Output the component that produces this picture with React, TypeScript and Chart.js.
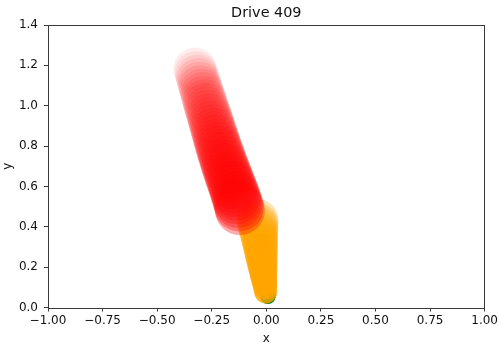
import React, { useEffect, useRef } from "react";
import { Chart, registerables } from "chart.js";

Chart.register(...registerables);

const TITLE = "Drive 409";
const X_TICKS = [-1, -0.75, -0.5, -0.25, 0, 0.25, 0.5, 0.75, 1];
const Y_TICKS = [0, 0.2, 0.4, 0.6, 0.8, 1.0, 1.2, 1.4];

// older trail (red), top to bottom
const redX = [
  -0.327, -0.322, -0.317, -0.312, -0.307, -0.302, -0.297, -0.292, -0.287, -0.282,
  -0.277, -0.272, -0.267, -0.261, -0.256, -0.251, -0.246, -0.241, -0.236, -0.231,
  -0.226, -0.221, -0.216, -0.21, -0.205, -0.199, -0.194, -0.188, -0.182, -0.176,
  -0.17, -0.164, -0.158, -0.152, -0.146, -0.14, -0.135, -0.13, -0.125, -0.121,
];
const redY = [
  1.182, 1.164, 1.146, 1.128, 1.11, 1.092, 1.075, 1.057, 1.039, 1.021,
  1.003, 0.985, 0.967, 0.949, 0.931, 0.913, 0.895, 0.877, 0.859, 0.841,
  0.823, 0.805, 0.787, 0.77, 0.752, 0.734, 0.716, 0.698, 0.68, 0.662,
  0.644, 0.626, 0.608, 0.59, 0.572, 0.554, 0.536, 0.518, 0.5, 0.483,
];
// recent trail (orange), top to bottom
const orangeX = [
  -0.041, -0.039, -0.037, -0.035, -0.033, -0.031, -0.029, -0.027, -0.025, -0.024,
  -0.022, -0.02, -0.018, -0.016, -0.014, -0.012, -0.01, -0.007, -0.005, -0.003,
];
const orangeY = [
  0.434, 0.415, 0.397, 0.378, 0.36, 0.341, 0.323, 0.304, 0.286, 0.267,
  0.249, 0.23, 0.212, 0.193, 0.175, 0.156, 0.138, 0.119, 0.098, 0.077,
];
// current position (green)
const greenX = [0.007];
const greenY = [0.057];

const zip = (xs: number[], ys: number[]) => xs.map((x, i) => ({ x, y: ys[i] }));
const fmt = (v: number, d: number) => {
  const s = Math.abs(v) < 1e-9 ? (0).toFixed(d) : v.toFixed(d);
  return s.replace("-", "\u2212");
};

const FONT = "'DejaVu Sans', sans-serif";
const SPINE = "#3a3a3a";

export default function App() {
  const ref = useRef<HTMLCanvasElement | null>(null);

  useEffect(() => {
    document.body.style.margin = "0";
    const canvas = ref.current;
    if (!canvas) return;

    const boxPlugin = {
      id: "boxAndTitle",
      afterDraw(chart: any) {
        const { ctx, chartArea } = chart;
        ctx.save();
        ctx.strokeStyle = SPINE;
        ctx.lineWidth = 1;
        ctx.strokeRect(
          Math.round(chartArea.left) + 0.5,
          Math.round(chartArea.top) + 0.5,
          Math.round(chartArea.right - chartArea.left) - 1,
          Math.round(chartArea.bottom - chartArea.top)
        );
        ctx.fillStyle = "#111";
        ctx.font = `14.4px ${FONT}`;
        ctx.textAlign = "center";
        ctx.textBaseline = "middle";
        ctx.fillText(TITLE, (chartArea.left + chartArea.right) / 2, 13);
        ctx.restore();
      },
    };

    const nRed = redX.length;
    const nOr = orangeX.length;
    const redR = (c: any) => 21.5 + (3.5 * c.dataIndex) / (nRed - 1);
    const orR = (c: any) => 21 - (9.5 * c.dataIndex) / (nOr - 1);
    const redA = (c: any) => {
      const t = c.dataIndex / (nRed - 1);
      return `rgba(255,0,0,${(0.07 + 0.25 * t).toFixed(3)})`;
    };
    const orA = (c: any) => {
      const t = c.dataIndex / (nOr - 1);
      return `rgba(255,165,0,${(0.3 + 0.5 * t).toFixed(3)})`;
    };

    const chart = new Chart(canvas, {
      type: "scatter",
      data: {
        datasets: [
          {
            label: "red",
            data: zip(redX, redY),
            backgroundColor: redA,
            borderWidth: 0,
            pointRadius: redR,
            pointHoverRadius: redR,
            order: 0,
          },
          {
            label: "orange",
            data: zip(orangeX, orangeY),
            backgroundColor: orA,
            borderWidth: 0,
            pointRadius: orR,
            pointHoverRadius: orR,
            order: 1,
          },
          {
            label: "green",
            data: zip(greenX, greenY),
            backgroundColor: "rgb(0,128,0)",
            borderWidth: 0,
            pointRadius: 8,
            pointHoverRadius: 8,
            order: 2,
          },
        ],
      },
      options: {
        responsive: false,
        animation: false,
        devicePixelRatio: 1,
        layout: { autoPadding: false, padding: { left: 0, right: 15, top: 25, bottom: 0 } },
        plugins: {
          legend: { display: false },
          tooltip: { enabled: false },
          title: { display: false },
        },
        scales: {
          x: {
            type: "linear",
            min: -1,
            max: 1,
            afterBuildTicks: (s: any) => {
              s.ticks = X_TICKS.map((v) => ({ value: v }));
            },
            afterFit: (s: any) => {
              s.height = 41.5;
            },
            ticks: {
              color: "#111",
              font: { family: FONT, size: 12 },
              padding: 2,
              maxRotation: 0,
              autoSkip: false,
              callback: (v: any) => fmt(Number(v), 2),
            },
            grid: {
              display: true,
              drawOnChartArea: false,
              drawTicks: true,
              tickLength: 4,
              color: SPINE,
            },
            border: { display: false },
            title: {
              display: true,
              text: "x",
              color: "#111",
              font: { family: FONT, size: 12 },
              padding: { top: 0, bottom: 2.8 },
            },
          },
          y: {
            type: "linear",
            min: 0,
            max: 1.4,
            afterBuildTicks: (s: any) => {
              s.ticks = Y_TICKS.map((v) => ({ value: v }));
            },
            afterFit: (s: any) => {
              s.width = 48;
            },
            ticks: {
              color: "#111",
              font: { family: FONT, size: 12 },
              padding: 6,
              autoSkip: false,
              callback: (v: any) => fmt(Number(v), 1),
            },
            grid: {
              display: true,
              drawOnChartArea: false,
              drawTicks: true,
              tickLength: 4,
              color: SPINE,
            },
            border: { display: false },
            title: {
              display: true,
              text: "y",
              color: "#111",
              font: { family: FONT, size: 12 },
              padding: { top: 1, bottom: 0 },
            },
          },
        },
      },
      plugins: [boxPlugin],
    } as any);

    return () => chart.destroy();
  }, []);

  return (
    <div style={{ position: "absolute", left: 0, top: 0, width: 500, height: 349, background: "#fff" }}>
      <canvas ref={ref} width={500} height={349} style={{ display: "block" }} />
    </div>
  );
}
